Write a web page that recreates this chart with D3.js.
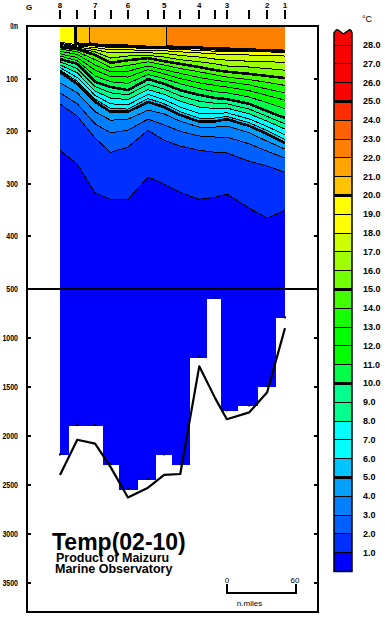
<!DOCTYPE html>
<html>
<head>
<meta charset="utf-8">
<script src="https://cdn.jsdelivr.net/npm/d3@7"></script>
<style>
body { margin: 0; background: #fff; }
svg { display: block; }
text { font-family: "Liberation Sans Narrow", "Liberation Sans", Arial, sans-serif; fill: #000; }
</style>
</head>
<body>
<script>
// stations along the section, distance in n.miles from station 8
var stationNames = ["8", "", "7", "", "6", "", "5", "", "4", "", "3", "", "2", "1"];
var stationDist  = [0, 15, 30.5, 44, 59, 76.5, 90.5, 104.5, 121, 135, 145, 164.5, 180, 195.5];

// surface (mixed layer) temperature and mixed layer depth (m)
var surfaceTemp = [19.6, 20.05, 21.4, 21.5, 21.6, 21.75, 21.95, 22.3, 22.4, 22.5, 22.5, 22.6, 22.7, 22.8];
var mixedDepth  = [28, 31, 33, 35, 35, 37, 37, 39, 39, 41, 41, 43, 43, 45];

// depth (m) of each isotherm at each station
var isoLevels = [20, 19, 18, 17, 16, 15, 14, 13, 12, 11, 10, 9, 8, 7, 6, 5, 4, 3, 2, 1];
var isoDepth = [
  [30, 34, 36, 38, 38, 40, 40, 42, 42, 44, 44, 46, 46, 48],
  [31, 36, 38, 41, 41, 43, 43, 45, 46, 48, 48, 49, 49, 50],
  [33, 38, 41, 45, 45, 47, 47, 49, 51, 53, 54, 55, 56, 57],
  [35, 40, 45, 51, 50, 51, 52, 56, 59, 63, 65, 67, 68, 69],
  [37, 42, 49, 61, 57, 56, 59, 64, 68, 72, 76, 78, 81, 84],
  [40, 44, 55, 70, 65, 61, 67, 72, 78, 84, 87, 91, 95, 99],
  [44, 49, 64, 79, 75, 68, 74, 81, 87, 93, 97, 102, 107, 113],
  [48, 54, 74, 87, 86, 76, 83, 90, 98, 103, 106, 112, 120, 127],
  [53, 60, 84, 96, 97, 83, 91, 100, 108, 113, 116, 123, 132, 141],
  [57, 66, 95, 106, 109, 92, 100, 110, 119, 125, 127, 135, 146, 157],
  [63, 72, 106, 116, 122, 101, 110, 122, 131, 137, 139, 148, 162, 175],
  [68, 81, 115, 127, 131, 111, 120, 133, 143, 147, 148, 158, 172, 186],
  [74, 89, 124, 137, 140, 121, 130, 143, 154, 157, 156, 167, 181, 196],
  [79, 98, 132, 148, 150, 130, 140, 154, 166, 167, 165, 177, 191, 207],
  [84, 105, 139, 157, 158, 138, 148, 163, 175, 175, 172, 184, 199, 216],
  [87, 110, 144, 163, 163, 144, 154, 169, 182, 181, 177, 190, 205, 222],
  [108, 127, 163, 179, 177, 160, 167, 181, 192, 192, 190, 203, 219, 234],
  [127, 148, 186, 203, 198, 177, 188, 200, 209, 211, 211, 224, 238, 251],
  [148, 171, 213, 240, 230, 198, 217, 228, 236, 240, 241, 257, 266, 278],
  [236, 262, 317, 329, 329, 287, 300, 316, 329, 325, 319, 346, 365, 350]
];

// deepest observation and sea bottom (m)
var obsDepth    = [2200, 1900, 1900, 2300, 2550, 2450, 2200, 2300, 1200, 600, 1750, 1700, 1500, 800];
var bottomDepth = [2400, 2040, 2080, 2320, 2630, 2530, 2400, 2390, 1290, 1620, 1830, 1760, 1555, 900];

var upperTicks = [0, 100, 200, 300, 400];
var lowerTicks = [1000, 1500, 2000, 2500, 3000, 3500];
var tempTicks  = [1, 2, 3, 4, 5, 6, 7, 8, 9, 10, 11, 12, 13, 14, 15, 16, 17, 18, 19, 20, 21, 22, 23, 24, 25, 26, 27, 28];

// colour of each 1 degree band, 0-1 ... 28-29
var binColors = ["#0000ff", "#0030ff", "#0060ff", "#0080ff", "#00a0ff", "#00c4ff", "#00ffff", "#00ffff",
  "#00ff8c", "#00ff8c", "#00ff48", "#00ff00", "#00ff00", "#18ff00", "#44ff00", "#74ff00", "#a0ff00",
  "#ccff00", "#ffff00", "#ffff00", "#ffc400", "#ffa400", "#ff8000", "#ff6000", "#ff2c00",
  "#ff0000", "#ff0000", "#ff0000", "#ff0000"];

var svg = d3.select("body").append("svg").attr("width", 385).attr("height", 621);

var x    = d3.scaleLinear().domain([0, 195.5]).range([60, 285]);
var yTop = d3.scaleLinear().domain([0, 500]).range([26, 289]);
var yLow = d3.scaleLinear().domain([500, 3800]).range([289, 612]);
var cb   = d3.scaleLinear().domain([0, 28]).range([571.5, 45]);

function atStation(arr, d) {
  var n = stationDist.length;
  if (d <= stationDist[0]) return arr[0];
  if (d >= stationDist[n - 1]) return arr[n - 1];
  var i = d3.bisectRight(stationDist, d) - 1;
  var t = (d - stationDist[i]) / (stationDist[i + 1] - stationDist[i]);
  return arr[i] * (1 - t) + arr[i + 1] * t;
}

// temperature profile of one column
function profile(d) {
  var s = atStation(surfaceTemp, d);
  var zs = [0, atStation(mixedDepth, d)], ts = [s, s];
  isoLevels.forEach(function(L, k) {
    if (L < s) { zs.push(atStation(isoDepth[k], d)); ts.push(L); }
  });
  zs.push(600); ts.push(0.5);
  return {z: zs, t: ts};
}
function tempAt(p, z) {
  if (z <= 0) return p.t[0];
  for (var i = 1; i < p.z.length; i++) {
    if (z <= p.z[i]) {
      var f = (z - p.z[i - 1]) / (p.z[i] - p.z[i - 1]);
      return p.t[i - 1] + (p.t[i] - p.t[i - 1]) * f;
    }
  }
  return 0.5;
}

// grid for contouring (slightly bigger than the visible box)
var k = 2, pad = 3;
var gx0 = x.range()[0] - pad, gx1 = x.range()[1] + pad;
var gy0 = yTop.range()[0] - pad, gy1 = yTop.range()[1] + pad;
var nx = (gx1 - gx0) * k, ny = (gy1 - gy0) * k;
var values = new Float64Array(nx * ny);
for (var i = 0; i < nx; i++) {
  var p = profile(x.invert(gx0 + (i + 0.5) / k));
  for (var j = 0; j < ny; j++) {
    values[j * nx + i] = tempAt(p, yTop.invert(gy0 + (j + 0.5) / k));
  }
}
var contours = d3.contours().size([nx, ny]).thresholds(tempTicks)(values);
var path = d3.geoPath(d3.geoIdentity().scale(1 / k).translate([gx0, gy0]));

svg.append("clipPath").attr("id", "top").append("rect")
  .attr("x", x.range()[0]).attr("y", yTop.range()[0])
  .attr("width", x.range()[1] - x.range()[0]).attr("height", yTop.range()[1] - yTop.range()[0]);

var topG = svg.append("g").attr("clip-path", "url(#top)");
topG.append("rect")
  .attr("x", gx0).attr("y", gy0).attr("width", gx1 - gx0).attr("height", gy1 - gy0)
  .attr("fill", binColors[0]);
topG.selectAll("path.fill").data(contours).enter().append("path")
  .attr("class", "fill")
  .attr("d", path)
  .attr("fill", function(c) { return binColors[c.value]; });
topG.selectAll("path.iso").data(contours).enter().append("path")
  .attr("class", "iso")
  .attr("d", path)
  .attr("fill", "none")
  .attr("stroke", "#000")
  .attr("stroke-width", function(c) { return c.value % 5 === 0 ? 2.6 : 1; })
  .attr("shape-rendering", "crispEdges");

// deep part: observed down to obsDepth
function leftEdge(i) { return i === 0 ? x(stationDist[0]) : (x(stationDist[i - 1]) + x(stationDist[i])) / 2; }
function rightEdge(i) { var n = stationDist.length; return i === n - 1 ? x(stationDist[n - 1]) : (x(stationDist[i]) + x(stationDist[i + 1])) / 2; }

svg.selectAll("rect.deep").data(obsDepth).enter().append("rect")
  .attr("class", "deep")
  .attr("x", function(d, i) { return leftEdge(i); })
  .attr("width", function(d, i) { return rightEdge(i) - leftEdge(i); })
  .attr("y", yLow(500))
  .attr("height", function(d) { return yLow(d) - yLow(500); })
  .attr("fill", binColors[0])
  .attr("shape-rendering", "crispEdges");

svg.selectAll("rect.obs").data(obsDepth).enter().append("rect")
  .attr("class", "obs")
  .attr("x", function(d, i) { return x(stationDist[i]) - 1; })
  .attr("y", function(d) { return yLow(d) - 2; })
  .attr("width", 2).attr("height", 2)
  .attr("fill", "#000");

// sea bottom
var bottomLine = d3.line()
  .x(function(d, i) { return x(stationDist[i]); })
  .y(function(d) { return yLow(d); });
svg.append("path")
  .attr("d", bottomLine(bottomDepth))
  .attr("fill", "none").attr("stroke", "#000").attr("stroke-width", 2.2)
  .attr("stroke-linejoin", "round");

// frame
var frame = svg.append("g").attr("stroke", "#000").attr("stroke-width", 2).attr("shape-rendering", "crispEdges");
frame.append("rect").attr("x", 27).attr("y", 26).attr("width", 291).attr("height", 586).attr("fill", "none");
frame.append("line").attr("x1", 27).attr("x2", 318).attr("y1", yLow(500)).attr("y2", yLow(500));

// depth axis
var depthTicks = upperTicks.map(function(d) { return {v: d, y: yTop(d)}; })
  .concat([{v: 500, y: yLow(500)}])
  .concat(lowerTicks.map(function(d) { return {v: d, y: yLow(d)}; }));
depthTicks.forEach(function(t) {
  if (t.v > 0 && t.v !== 500) {
    frame.append("line").attr("x1", 27).attr("x2", 31).attr("y1", t.y).attr("y2", t.y);
    frame.append("line").attr("x1", 314).attr("x2", 318).attr("y1", t.y).attr("y2", t.y);
  }
  var label = t.v === 0 ? "0m" : String(t.v);
  svg.append("text")
    .attr("x", 18).attr("y", t.y + 3)
    .attr("text-anchor", "end")
    .attr("font-size", 9).attr("font-weight", "bold")
    .attr("textLength", label.length * 3.9)
    .attr("lengthAdjust", "spacingAndGlyphs")
    .text(label);
});

// station ticks on top
svg.selectAll("line.st").data(stationDist).enter().append("line")
  .attr("x1", function(d) { return x(d); }).attr("x2", function(d) { return x(d); })
  .attr("y1", 10).attr("y2", 19)
  .attr("stroke", "#000").attr("stroke-width", 2).attr("shape-rendering", "crispEdges");
svg.selectAll("text.st").data(stationNames).enter().append("text")
  .attr("x", function(d, i) { return x(stationDist[i]); }).attr("y", 8)
  .attr("text-anchor", "middle").attr("font-size", 8).attr("font-weight", "bold")
  .text(function(d) { return d; });
svg.append("text").attr("x", 29).attr("y", 10).attr("text-anchor", "middle")
  .attr("font-size", 8).attr("font-weight", "bold").text("G");

// title
svg.append("text").attr("x", 52).attr("y", 550)
  .style("font-family", "'Liberation Sans', Arial, sans-serif")
  .attr("font-size", 23).attr("font-weight", "bold").text("Temp(02-10)");
svg.append("text").attr("x", 56).attr("y", 562)
  .style("font-family", "'Liberation Sans', Arial, sans-serif")
  .attr("font-size", 12.5).attr("font-weight", "bold").text("Product of Maizuru");
svg.append("text").attr("x", 55).attr("y", 573)
  .style("font-family", "'Liberation Sans', Arial, sans-serif")
  .attr("font-size", 12.5).attr("font-weight", "bold").text("Marine Observatory");

// distance scale bar
var sb0 = 227, sb1 = sb0 + x(60) - x(0);
svg.append("path")
  .attr("d", "M" + sb0 + ",584V593H" + sb1 + "V584")
  .attr("fill", "none").attr("stroke", "#000").attr("stroke-width", 2)
  .attr("shape-rendering", "crispEdges");
svg.append("text").attr("x", sb0).attr("y", 583).attr("text-anchor", "middle")
  .attr("font-size", 8).text("0");
svg.append("text").attr("x", sb1 - 1).attr("y", 583).attr("text-anchor", "middle")
  .attr("font-size", 8).text("60");
svg.append("text").attr("x", (sb0 + sb1) / 2 - 12).attr("y", 606).attr("text-anchor", "middle")
  .attr("font-size", 8).text("n.miles");

// colour bar
var cbx = 334, cbw = 18;
var bins = d3.range(0, 28);
svg.selectAll("rect.cb").data(bins).enter().append("rect")
  .attr("class", "cb")
  .attr("x", cbx).attr("width", cbw)
  .attr("y", function(b) { return cb(b + 1); })
  .attr("height", function(b) { return cb(b) - cb(b + 1); })
  .attr("fill", function(b) { return binColors[b]; });
var topY = cb(28);
var wave = "M" + cbx + "," + topY + "V33Q336,29 338,30Q341,32 343.5,34Q346,32 349,30Q351,29 352,33V" + topY + "Z";
svg.append("path").attr("d", wave).attr("fill", binColors[28]);
svg.selectAll("line.cb").data(tempTicks).enter().append("line")
  .attr("x1", cbx).attr("x2", cbx + cbw)
  .attr("y1", function(t) { return cb(t); }).attr("y2", function(t) { return cb(t); })
  .attr("stroke", "#000")
  .attr("stroke-width", function(t) { return t % 5 === 0 ? 3 : 1; })
  .attr("shape-rendering", "crispEdges");
svg.append("path")
  .attr("d", "M" + cbx + "," + cb(0) + "V33Q336,29 338,30Q341,32 343.5,34Q346,32 349,30Q351,29 352,33V" + cb(0) + "Z")
  .attr("fill", "none").attr("stroke", "#000").attr("stroke-width", 1.5);
svg.selectAll("text.cb").data(tempTicks).enter().append("text")
  .attr("x", 363).attr("y", function(t) { return cb(t) + 3; })
  .attr("font-size", 9).attr("font-weight", "bold")
  .text(function(t) { return t.toFixed(1); });
svg.append("text").attr("x", 362).attr("y", 22).attr("font-size", 9).text("°C");
</script>
</body>
</html>
